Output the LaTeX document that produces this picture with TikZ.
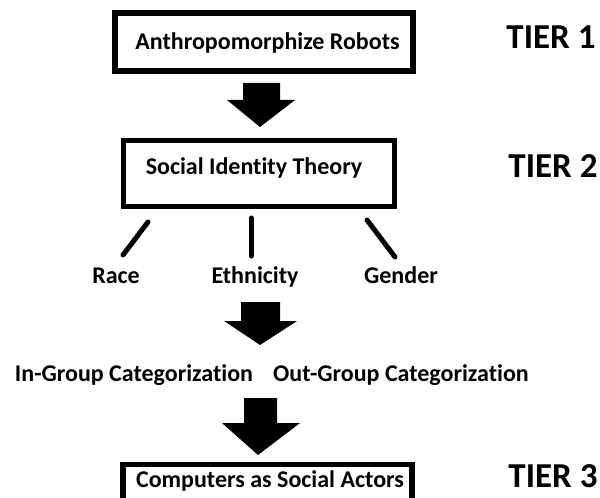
\documentclass[tikz,border=0pt]{standalone}
\usepackage{fontspec}
\setmainfont{Carlito}[Ligatures={NoCommon}]
\begin{document}
\begin{tikzpicture}[x=1bp,y=-1bp,
  txt/.style={font=\bfseries\fontsize{24bp}{28bp}\selectfont, inner sep=0pt, anchor=base},
  tier/.style={font=\bfseries\fontsize{35bp}{40bp}\selectfont, inner sep=0pt, anchor=base},
  frame/.style={draw=black, fill=white, inner sep=0pt},
  branch/.style={draw=black, line width=5bp, line cap=round},
  blockarrow/.style={fill=black}
]
\useasboundingbox (0,0) rectangle (600,498);

% Tier 1
\node[frame, line width=6bp, minimum width=298bp, minimum height=58bp] (box1) at (264,42) {};
\node[txt] (anthro) at (267.5,50) {Anthropomorphize Robots};
\node[tier] (tier1) at (551,49) {TIER 1};

% Arrow 1
\coordinate (a1) at (260,127);
\fill[blockarrow] (243,83) -- (280,83) -- (280,100) -- (295,100) -- (a1) -- (227,100) -- (243,100) -- cycle;

% Tier 2
\node[frame, line width=5bp, minimum width=271bp, minimum height=66bp] (box2) at (259,173.5) {};
\node[txt] (sit) at (254,175) {Social Identity Theory};
\node[tier] (tier2) at (553,178) {TIER 2};

% Branches
\coordinate (l1) at (148,222); \coordinate (l2) at (123,255);
\coordinate (m1) at (251,218); \coordinate (m2) at (251,256);
\coordinate (r1) at (367,220); \coordinate (r2) at (395,257);
\draw[branch] (l1) -- (l2);
\draw[branch] (m1) -- (m2);
\draw[branch] (r1) -- (r2);

\node[txt] (race) at (116,283) {Race};
\node[txt] (eth) at (255,283) {Ethnicity};
\node[txt] (gender) at (401,283) {Gender};

% Arrow 2
\coordinate (a2) at (260,345);
\fill[blockarrow] (241,302) -- (280,302) -- (280,321) -- (297,321) -- (a2) -- (224,321) -- (241,321) -- cycle;

\node[txt] (ingroup) at (134,381) {In-Group Categorization};
\node[txt] (outgroup) at (401,381) {Out-Group Categorization};

% Arrow 3
\coordinate (a3) at (258,455);
\fill[blockarrow] (244,398) -- (277,398) -- (277,423) -- (300,423) -- (a3) -- (222,423) -- (244,423) -- cycle;

% Tier 3
\node[frame, line width=5.5bp, minimum width=289bp, minimum height=50bp] (box3) at (267.5,489.5) {};
\node[txt] (casa) at (270,487) {Computers as Social Actors};
\node[tier] (tier3) at (553,487) {TIER 3};
\end{tikzpicture}
\end{document}
